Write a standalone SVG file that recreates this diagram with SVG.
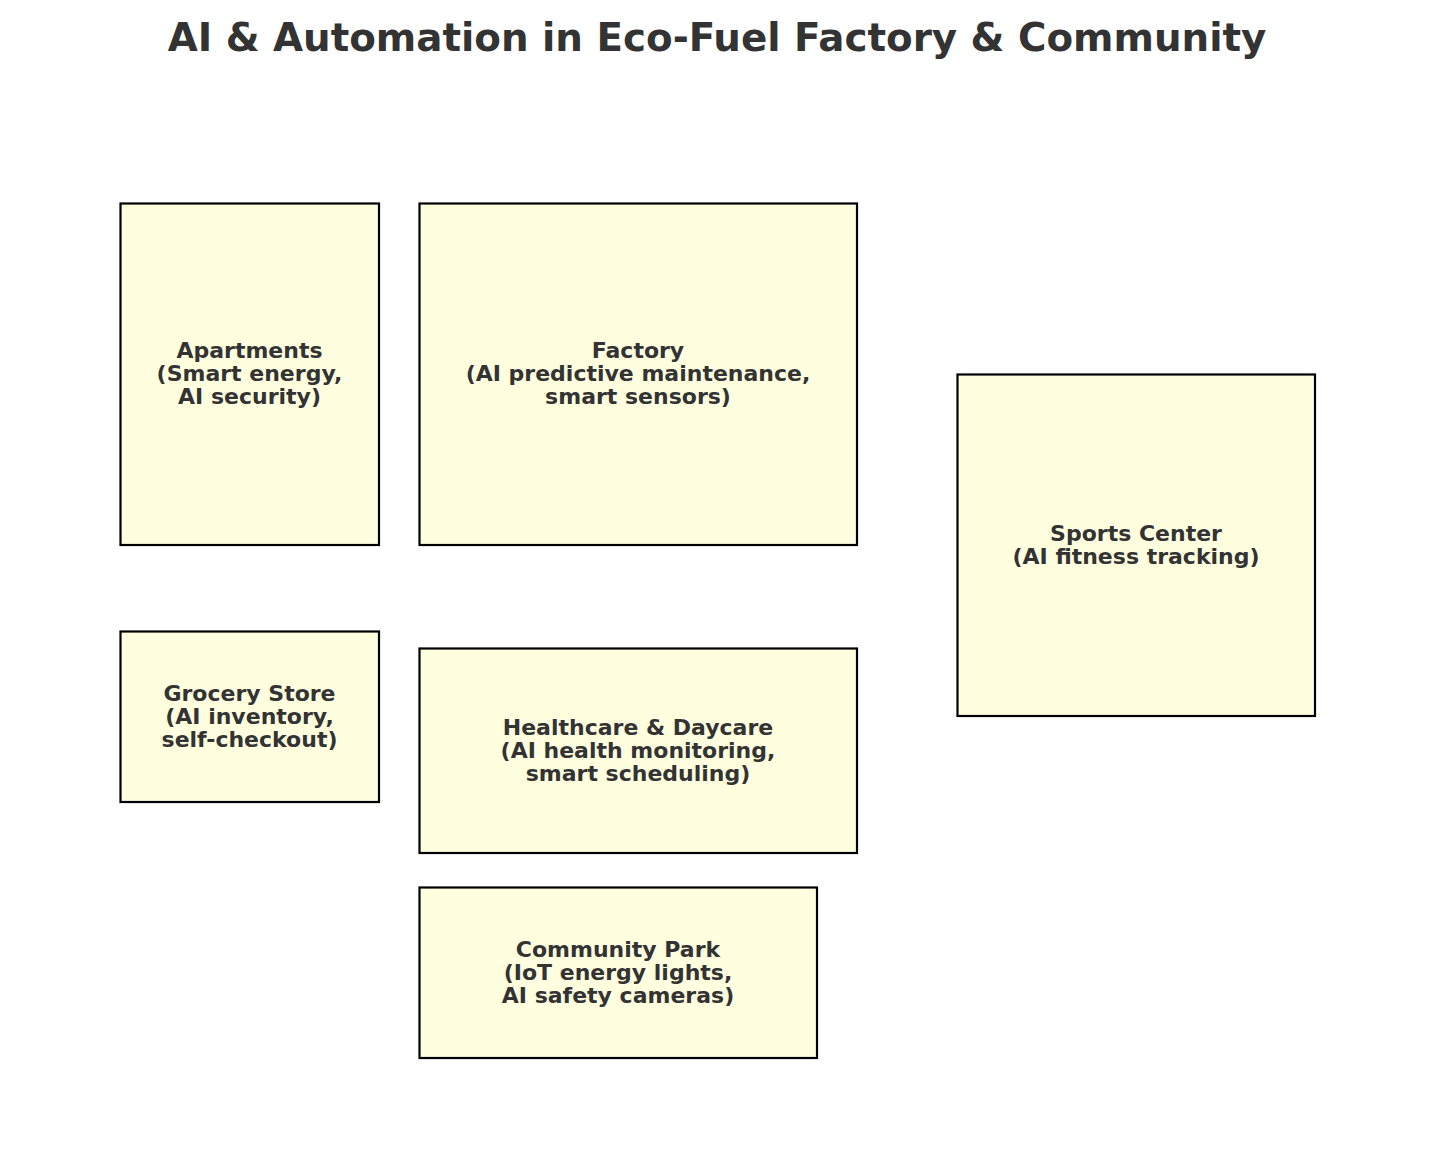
<svg xmlns="http://www.w3.org/2000/svg" width="1434" height="1164" viewBox="0 0 1434 1164">
<style>
.box{fill:#FFFFE0;stroke:#000;stroke-width:2.2}
.lbl{font-family:"DejaVu Sans",sans-serif;font-weight:bold;font-size:22px;fill:#333;text-anchor:middle}
.title{font-family:"DejaVu Sans",sans-serif;font-weight:bold;font-size:38.8px;fill:#333;text-anchor:middle}
</style>
<rect width="1434" height="1164" fill="#fff"/>
<text class="title" x="717" y="51">AI &amp; Automation in Eco-Fuel Factory &amp; Community</text>
<g id="connectors"></g>
<g id="apartments">
<rect class="box" x="120.5" y="203.5" width="258.5" height="341.5"/>
<text class="lbl" x="249.5" y="358">Apartments</text>
<text class="lbl" x="249.5" y="381">(Smart energy,</text>
<text class="lbl" x="249.5" y="404">AI security)</text>
</g>
<g id="factory">
<rect class="box" x="419.5" y="203.5" width="437.5" height="341.5"/>
<text class="lbl" x="638" y="358">Factory</text>
<text class="lbl" x="638" y="381">(AI predictive maintenance,</text>
<text class="lbl" x="638" y="404">smart sensors)</text>
</g>
<g id="sports">
<rect class="box" x="957.5" y="374.5" width="357.5" height="341.5"/>
<text class="lbl" x="1136" y="541">Sports Center</text>
<text class="lbl" x="1136" y="564">(AI fitness tracking)</text>
</g>
<g id="grocery">
<rect class="box" x="120.5" y="631.5" width="258.5" height="170.5"/>
<text class="lbl" x="249.5" y="701">Grocery Store</text>
<text class="lbl" x="249.5" y="724">(AI inventory,</text>
<text class="lbl" x="249.5" y="747">self-checkout)</text>
</g>
<g id="healthcare">
<rect class="box" x="419.5" y="648.5" width="437.5" height="204.5"/>
<text class="lbl" x="638" y="735">Healthcare &amp; Daycare</text>
<text class="lbl" x="638" y="758">(AI health monitoring,</text>
<text class="lbl" x="638" y="781">smart scheduling)</text>
</g>
<g id="park">
<rect class="box" x="419.5" y="887.5" width="397.5" height="170.5"/>
<text class="lbl" x="618" y="957">Community Park</text>
<text class="lbl" x="618" y="980">(IoT energy lights,</text>
<text class="lbl" x="618" y="1003">AI safety cameras)</text>
</g>
</svg>
